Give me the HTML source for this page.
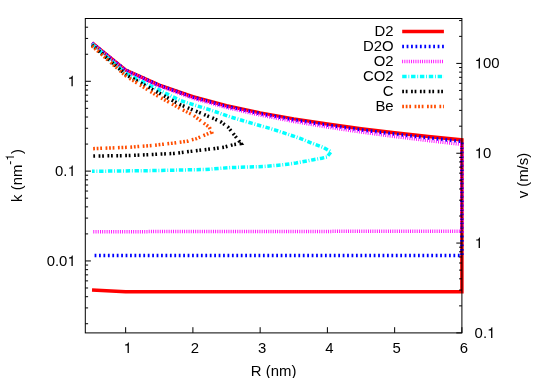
<!DOCTYPE html>
<html><head><meta charset="utf-8"><title>plot</title>
<style>html,body{margin:0;padding:0;background:#fff;overflow:hidden}svg{display:block;will-change:transform}text{font-family:"Liberation Sans",sans-serif;font-size:14.90px;fill:#000}</style></head>
<body>
<svg width="538" height="378" viewBox="0 0 538 378">
<rect x="0" y="0" width="538" height="378" fill="#ffffff"/>
<path transform="translate(67.42,86.29) scale(0.01490)" d="M359 0H271V-505H108V-568Q200 -572 243 -600T303 -709H359Z" fill="#000"/>
<text x="54.99" y="176.12" font-size="14.90px">0.</text><path transform="translate(67.42,176.12) scale(0.01490)" d="M359 0H271V-505H108V-568Q200 -572 243 -600T303 -709H359Z" fill="#000"/>
<text x="46.70" y="265.94" font-size="14.90px">0.0</text><path transform="translate(67.42,265.94) scale(0.01490)" d="M359 0H271V-505H108V-568Q200 -572 243 -600T303 -709H359Z" fill="#000"/>
<path transform="translate(474.60,68.41) scale(0.01490)" d="M359 0H271V-505H108V-568Q200 -572 243 -600T303 -709H359Z" fill="#000"/><text x="482.88" y="68.41" font-size="14.90px">00</text>
<path transform="translate(474.60,158.24) scale(0.01490)" d="M359 0H271V-505H108V-568Q200 -572 243 -600T303 -709H359Z" fill="#000"/><text x="482.88" y="158.24" font-size="14.90px">0</text>
<path transform="translate(474.60,248.07) scale(0.01490)" d="M359 0H271V-505H108V-568Q200 -572 243 -600T303 -709H359Z" fill="#000"/>
<text x="474.60" y="337.90" font-size="14.90px">0.</text><path transform="translate(487.03,337.90) scale(0.01490)" d="M359 0H271V-505H108V-568Q200 -572 243 -600T303 -709H359Z" fill="#000"/>
<path transform="translate(123.51,353.00) scale(0.01490)" d="M359 0H271V-505H108V-568Q200 -572 243 -600T303 -709H359Z" fill="#000"/>
<text x="190.76" y="353.00" font-size="14.90px">2</text>
<text x="258.01" y="353.00" font-size="14.90px">3</text>
<text x="325.26" y="353.00" font-size="14.90px">4</text>
<text x="392.51" y="353.00" font-size="14.90px">5</text>
<text x="459.76" y="353.00" font-size="14.90px">6</text>
<text x="273.6" y="375.6" text-anchor="middle">R (nm)</text>
<text transform="translate(21.8,201.9) rotate(-90)">k (nm<tspan font-size="11.92px" dy="-7.8">-</tspan></text>
<g transform="translate(21.8,201.9) rotate(-90)"><path transform="translate(41.22,-7.8) scale(0.01192)" d="M359 0H271V-505H108V-568Q200 -572 243 -600T303 -709H359Z"/><text x="47.85" y="0">)</text></g>
<text transform="translate(527.6,175.6) rotate(-90)" text-anchor="middle">v (m/s)</text>
<polyline fill="none" stroke="#ff0000" stroke-width="3.50" stroke-linejoin="miter" stroke-linecap="butt" points="92.02,42.97 125.65,70.02 159.28,85.03 192.90,96.76 226.53,105.76 260.15,112.87 293.78,118.89 327.40,124.10 361.02,128.69 394.65,132.80 428.27,136.52 461.90,139.92 461.90,291.80 125.65,291.80 92.02,290.10"/>
<polyline fill="none" stroke="#0000ff" stroke-width="3.50" stroke-linejoin="miter" stroke-linecap="butt" stroke-dasharray="1.772,2.658" points="92.02,43.07 125.65,70.25 159.28,85.40 192.90,97.26 226.53,106.40 260.15,113.65 293.78,119.80 327.40,125.14 361.02,129.87 394.65,134.12 428.27,137.97 461.90,141.50 461.90,255.50 92.02,255.50"/>
<polyline fill="none" stroke="#ff00ff" stroke-width="3.50" stroke-linejoin="miter" stroke-linecap="butt" stroke-dasharray="0.886,1.329" points="92.02,43.27 125.65,70.69 159.28,86.08 192.90,98.18 226.53,107.56 260.15,115.05 293.78,121.44 327.40,127.02 361.02,131.99 394.65,136.48 428.27,140.57 461.90,144.34 461.90,231.20 92.02,231.70"/>
<polyline fill="none" stroke="#00ffff" stroke-width="3.50" stroke-linejoin="miter" stroke-linecap="butt" stroke-dasharray="4.430,1.772,0.886,1.772" points="92.00,44.00 126.10,73.50 160.00,90.40 180.00,100.50 210.00,109.90 230.00,116.80 252.30,123.40 274.60,129.80 299.50,138.20 314.00,144.00 323.80,147.60 331.10,151.80 327.00,157.00 321.80,158.20 313.40,159.70 307.30,160.90 296.20,162.90 285.00,164.60 263.50,166.50 230.00,167.60 205.00,169.50 151.90,170.60 92.00,171.30"/>
<polyline fill="none" stroke="#000000" stroke-width="3.50" stroke-linejoin="miter" stroke-linecap="butt" stroke-dasharray="1.772,1.772,1.772,3.544" points="92.00,45.00 126.10,74.80 158.00,92.50 180.00,104.60 203.30,114.20 212.80,118.10 221.20,122.10 227.90,127.00 233.50,133.90 237.30,138.80 241.00,143.50 233.50,144.60 224.50,147.10 213.40,148.70 200.00,150.20 174.20,153.40 151.90,154.50 129.60,155.50 92.00,156.10"/>
<polyline fill="none" stroke="#ff4d00" stroke-width="3.50" stroke-linejoin="miter" stroke-linecap="butt" stroke-dasharray="1.772,1.772,1.772,1.772,1.772,3.544" points="92.00,45.90 126.10,76.10 156.00,95.00 182.20,109.60 192.40,114.60 209.40,127.30 211.60,132.20 203.90,135.40 196.50,138.60 191.60,139.80 187.60,141.20 174.20,143.00 151.90,145.50 129.60,147.20 92.00,148.70"/>
<text x="393.6" y="36.40" text-anchor="end">D2</text>
<path d="M402.2,31.40H443.9" fill="none" stroke="#ff0000" stroke-width="3.50"/>
<text x="393.6" y="51.40" text-anchor="end">D2O</text>
<path d="M402.2,46.40H443.9" fill="none" stroke="#0000ff" stroke-width="3.50" stroke-dasharray="1.772,2.658"/>
<text x="393.6" y="66.40" text-anchor="end">O2</text>
<path d="M402.2,61.40H443.9" fill="none" stroke="#ff00ff" stroke-width="3.50" stroke-dasharray="0.886,1.329"/>
<text x="393.6" y="81.40" text-anchor="end">CO2</text>
<path d="M402.2,76.40H443.9" fill="none" stroke="#00ffff" stroke-width="3.50" stroke-dasharray="4.430,1.772,0.886,1.772"/>
<text x="393.6" y="96.40" text-anchor="end">C</text>
<path d="M402.2,91.40H443.9" fill="none" stroke="#000000" stroke-width="3.50" stroke-dasharray="1.772,1.772,1.772,3.544"/>
<text x="393.6" y="111.40" text-anchor="end">Be</text>
<path d="M402.2,106.40H443.9" fill="none" stroke="#ff4d00" stroke-width="3.50" stroke-dasharray="1.772,1.772,1.772,1.772,1.772,3.544"/>
<g stroke="#000" stroke-width="1" fill="none">
<rect x="85.30" y="18.50" width="376.60" height="314.40"/>
<path d="M85.30,323.73h2.8M85.30,307.91h2.8M85.30,296.69h2.8M85.30,287.99h2.8M85.30,280.87h2.8M85.30,274.86h2.8M85.30,269.65h2.8M85.30,265.05h2.8M85.30,260.94h5.6M85.30,233.90h2.8M85.30,218.09h2.8M85.30,206.86h2.8M85.30,198.16h2.8M85.30,191.04h2.8M85.30,185.03h2.8M85.30,179.82h2.8M85.30,175.23h2.8M85.30,171.12h5.6M85.30,144.07h2.8M85.30,128.26h2.8M85.30,117.03h2.8M85.30,108.33h2.8M85.30,101.22h2.8M85.30,95.20h2.8M85.30,89.99h2.8M85.30,85.40h2.8M85.30,81.29h5.6M85.30,54.25h2.8M85.30,38.43h2.8M85.30,27.21h2.8M85.30,18.50h2.8M461.90,332.90h-5.6M461.90,305.86h-2.8M461.90,290.04h-2.8M461.90,278.82h-2.8M461.90,270.11h-2.8M461.90,263.00h-2.8M461.90,256.99h-2.8M461.90,251.78h-2.8M461.90,247.18h-2.8M461.90,243.07h-5.6M461.90,216.03h-2.8M461.90,200.21h-2.8M461.90,188.99h-2.8M461.90,180.28h-2.8M461.90,173.17h-2.8M461.90,167.16h-2.8M461.90,161.95h-2.8M461.90,157.35h-2.8M461.90,153.24h-5.6M461.90,126.20h-2.8M461.90,110.38h-2.8M461.90,99.16h-2.8M461.90,90.46h-2.8M461.90,83.34h-2.8M461.90,77.33h-2.8M461.90,72.12h-2.8M461.90,67.52h-2.8M461.90,63.41h-5.6M461.90,36.37h-2.8M461.90,20.56h-2.8M125.65,332.90v-5.7M192.90,332.90v-5.7M260.15,332.90v-5.7M327.40,332.90v-5.7M394.65,332.90v-5.7M461.90,332.90v-5.7"/>
</g>
</svg>
</body></html>
